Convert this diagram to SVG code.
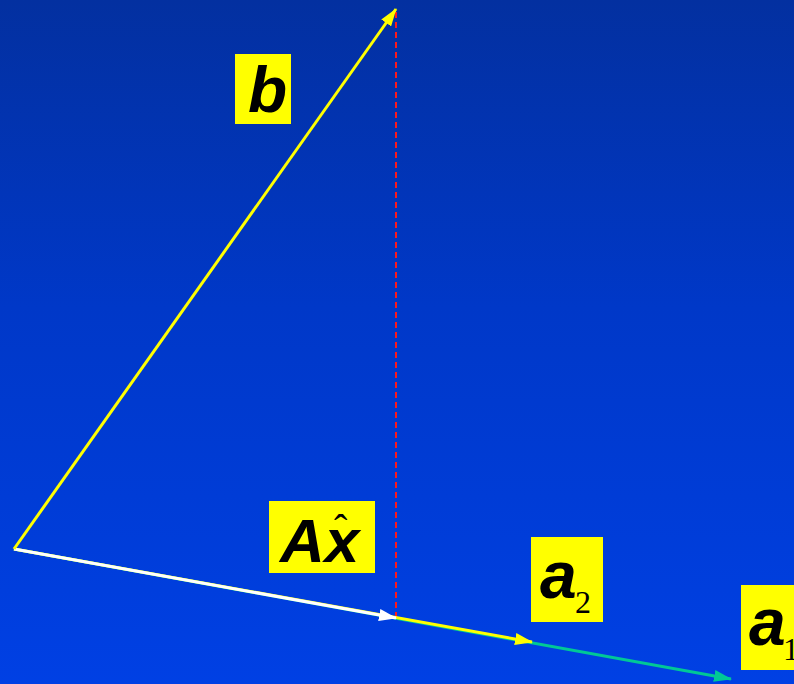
<svg xmlns="http://www.w3.org/2000/svg" width="794" height="684" viewBox="0 0 794 684">
<defs>
<linearGradient id="bg" x1="0" y1="0" x2="0" y2="1">
<stop offset="0" stop-color="#0330a0"/>
<stop offset="0.45" stop-color="#0038c8"/>
<stop offset="1" stop-color="#0040e4"/>
</linearGradient>
<marker id="mY" viewBox="0 0 18 12" refX="17" refY="6" markerWidth="18" markerHeight="12" markerUnits="userSpaceOnUse" orient="auto"><path d="M0,0 L18,6 L0,12 Z" fill="#ffff00"/></marker>
<marker id="mW" viewBox="0 0 18 12" refX="17" refY="6" markerWidth="18" markerHeight="12" markerUnits="userSpaceOnUse" orient="auto"><path d="M0,0 L18,6 L0,12 Z" fill="#ffffff"/></marker>
<marker id="mG" viewBox="0 0 18 12" refX="17" refY="6" markerWidth="18" markerHeight="12" markerUnits="userSpaceOnUse" orient="auto"><path d="M0,0 L18,6 L0,12 Z" fill="#00c896"/></marker>
</defs>
<style>
.lab{fill:#ffff00}
.t{font-family:"Liberation Sans",Arial,sans-serif;font-weight:bold;font-style:italic;fill:#000}
.s{font-family:"Liberation Serif","Times New Roman",serif;fill:#000}
</style>
<rect width="794" height="684" fill="url(#bg)"/>
<g id="connectors" fill="none">
<line x1="396" y1="12" x2="396" y2="620" stroke="#ff1a1a" stroke-width="2" stroke-dasharray="6,4"/>
<line x1="14" y1="549" x2="731" y2="679" stroke="#00c896" stroke-width="3" marker-end="url(#mG)"/>
<line x1="14" y1="549" x2="532" y2="642" stroke="#ffff00" stroke-width="3" marker-end="url(#mY)"/>
<line x1="14" y1="549" x2="396" y2="618" stroke="#ffffff" stroke-width="3" marker-end="url(#mW)"/>
<line x1="14" y1="549" x2="396" y2="9" stroke="#ffff00" stroke-width="3" marker-end="url(#mY)"/>
</g>
<g id="label-b">
<rect class="lab" x="235" y="54" width="56" height="70"/>
<text class="t" x="248" y="112" font-size="64">b</text>
</g>
<g id="label-Ax">
<rect class="lab" x="269" y="501" width="106" height="72"/>
<text class="t" x="280" y="562" font-size="62">Ax</text>
<text class="s" x="334" y="542" font-size="40">ˆ</text>
</g>
<g id="label-a2">
<rect class="lab" x="531" y="537" width="72" height="85"/>
<text class="t" x="540" y="598" font-size="66">a</text>
<text class="s" x="575" y="613" font-size="32">2</text>
</g>
<g id="label-a1">
<rect class="lab" x="741" y="585" width="60" height="85"/>
<text class="t" x="749" y="645" font-size="66">a</text>
<text class="s" x="783" y="660" font-size="32">1</text>
</g>
</svg>
